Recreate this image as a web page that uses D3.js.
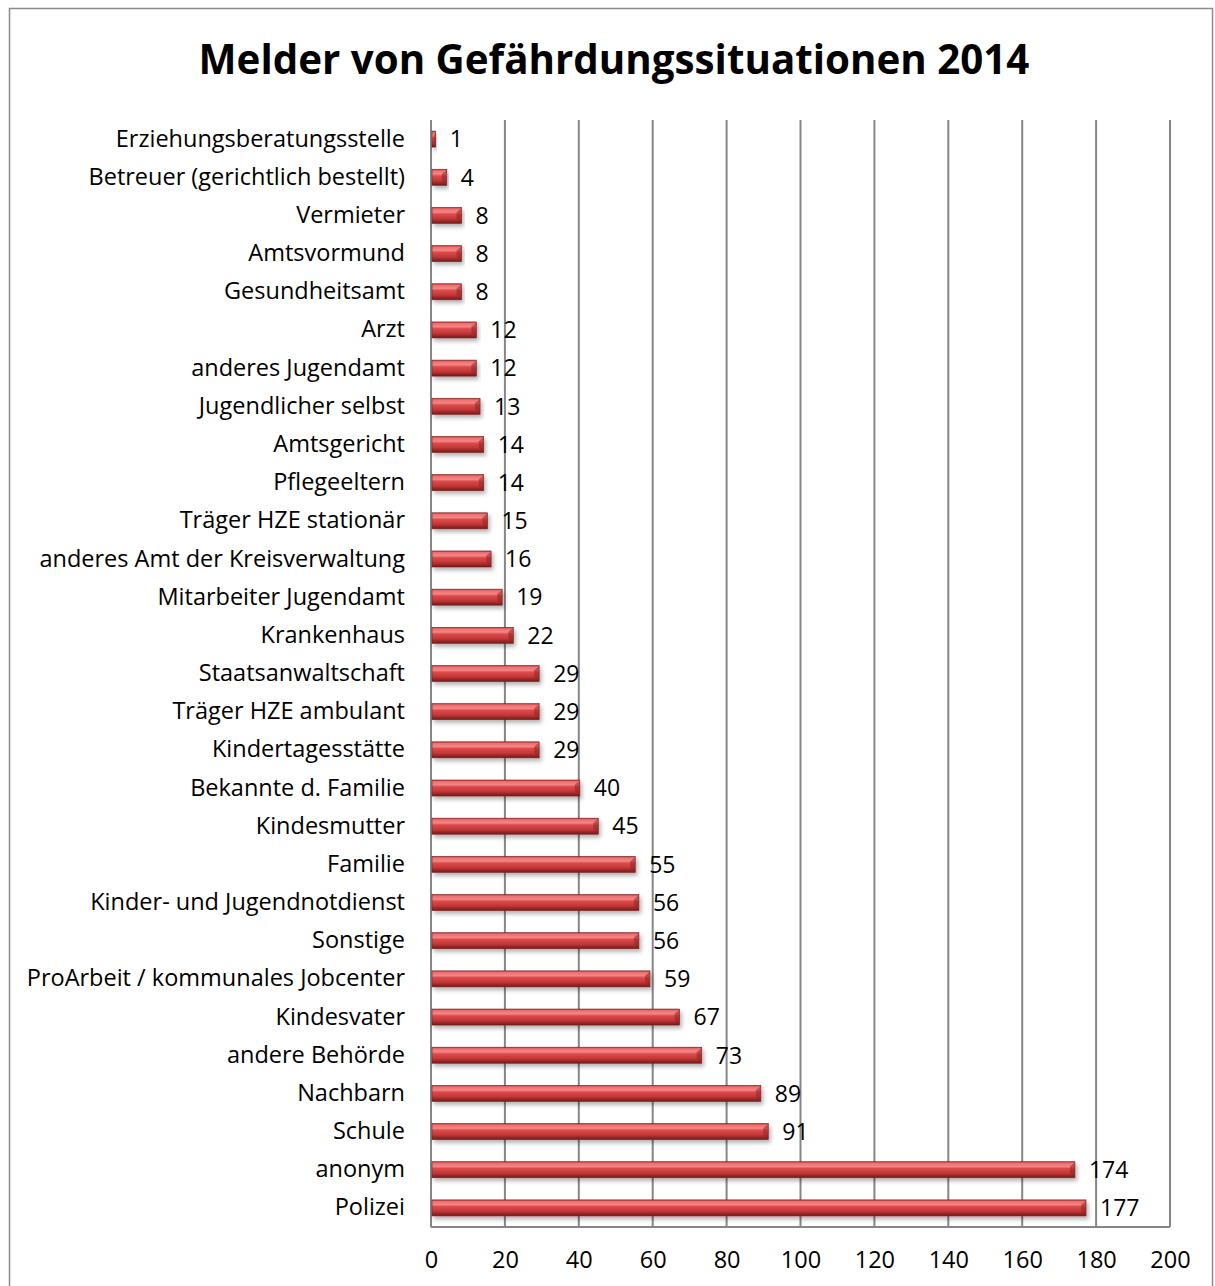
<!DOCTYPE html>
<html><head><meta charset="utf-8">
<script src="https://cdn.jsdelivr.net/npm/d3@7"></script>
<style>body{margin:0;background:#fff}svg{display:block}</style>
</head><body>
<script>
const title = "Melder von Gefährdungssituationen 2014";
const categories = ["Erziehungsberatungsstelle","Betreuer (gerichtlich bestellt)","Vermieter","Amtsvormund","Gesundheitsamt","Arzt","anderes Jugendamt","Jugendlicher selbst","Amtsgericht","Pflegeeltern","Träger HZE stationär","anderes Amt der Kreisverwaltung","Mitarbeiter Jugendamt","Krankenhaus","Staatsanwaltschaft","Träger HZE ambulant","Kindertagesstätte","Bekannte d. Familie","Kindesmutter","Familie","Kinder- und Jugendnotdienst","Sonstige","ProArbeit / kommunales Jobcenter","Kindesvater","andere Behörde","Nachbarn","Schule","anonym","Polizei"];
const values = [1,4,8,8,8,12,12,13,14,14,15,16,19,22,29,29,29,40,45,55,56,56,59,67,73,89,91,174,177];
const xTicks = [0,20,40,60,80,100,120,140,160,180,200];

const W = 1215, H = 1286;
const font = "'Open Sans', sans-serif";
const svg = d3.select("body").append("svg").attr("width", W).attr("height", H);

const defs = svg.append("defs");
const g1 = defs.append("linearGradient").attr("id","barGrad").attr("x1",0).attr("y1",0).attr("x2",0).attr("y2",1);
[[0,"#b83838"],[0.1,"#ee7070"],[0.3,"#f58585"],[0.42,"#dc4a4a"],[0.7,"#c43838"],[0.85,"#9c2828"],[1,"#6e1c1c"]].forEach(([o,c])=>g1.append("stop").attr("offset",o).attr("stop-color",c));
const f = defs.append("filter").attr("id","shadow").attr("x","-5%").attr("y","-50%").attr("width","115%").attr("height","250%");
f.append("feDropShadow").attr("dx",2).attr("dy",3).attr("stdDeviation",2).attr("flood-color","#000").attr("flood-opacity",0.3);

// outer frame
svg.append("rect").attr("x",9.5).attr("y",8.5).attr("width",1203).attr("height",1290)
  .attr("fill","none").attr("stroke","#8c8c8c").attr("stroke-width",1.5);

svg.append("text").attr("x",614).attr("y",74).attr("text-anchor","middle")
  .attr("font-family",font).attr("font-weight","bold").attr("font-size",40.3)
  .attr("fill","#000").text(title);

const pLeft = 431, pRight = 1170, pTop = 120, pBottom = 1227;
const x = d3.scaleLinear().domain([0,200]).range([pLeft,pRight]);
const y = d3.scaleBand().domain(categories).range([pTop,pBottom]).paddingInner(0.58).paddingOuter(0.29);

// gridlines
svg.append("g").selectAll("line").data(xTicks.slice(1)).join("line")
  .attr("x1",d=>x(d)).attr("x2",d=>x(d)).attr("y1",pTop).attr("y2",pBottom)
  .attr("stroke","#868686").attr("stroke-width",2);
svg.append("line").attr("x1",pLeft).attr("x2",pLeft).attr("y1",pTop).attr("y2",pBottom).attr("stroke","#868686").attr("stroke-width",2);
svg.append("line").attr("x1",pLeft).attr("x2",pRight).attr("y1",pBottom).attr("y2",pBottom).attr("stroke","#868686").attr("stroke-width",2);

// x axis labels
const xAxis = d3.axisBottom(x).tickValues(xTicks).tickSize(0).tickPadding(24);
const gx = svg.append("g").attr("transform",`translate(0,${pBottom})`).call(xAxis);
gx.select(".domain").remove();
gx.selectAll("text").attr("font-family",font).attr("font-size",23.5).attr("fill","#000");

// y axis labels
const yAxis = d3.axisLeft(y).tickSize(0).tickPadding(26);
const gy = svg.append("g").attr("transform",`translate(${pLeft},0)`).call(yAxis);
gy.select(".domain").remove();
gy.selectAll("text").attr("font-family",font).attr("font-size",23.5).attr("fill","#000");

// bars
const bars = svg.append("g").selectAll("g").data(values).join("g")
  .attr("transform",(d,i)=>`translate(0,${y(categories[i])})`);
bars.append("rect")
  .attr("x",x(0)+1).attr("y",0)
  .attr("width",d=>x(d)-x(0)).attr("height",y.bandwidth())
  .attr("fill","url(#barGrad)").attr("stroke","#7a2020").attr("stroke-width",0.6)
  .attr("filter","url(#shadow)");
const bh = y.bandwidth();
bars.append("path")
  .attr("d",d=>{const xe=x(d)+1, b=Math.min(5,(x(d)-x(0))/2);
    return `M${xe-b},${bh*0.3}L${xe},${bh*0.05}L${xe},${bh}L${xe-b},${bh*0.7}Z`;})
  .attr("fill","#8e2626").attr("opacity",0.55);

// value labels
svg.append("g").selectAll("text").data(values).join("text")
  .attr("x",d=>x(d)+15).attr("y",(d,i)=>y(categories[i])+y.bandwidth()/2)
  .attr("dy","0.36em").attr("font-family",font).attr("font-size",23).attr("fill","#000")
  .text(d=>d);
</script>
</body></html>
